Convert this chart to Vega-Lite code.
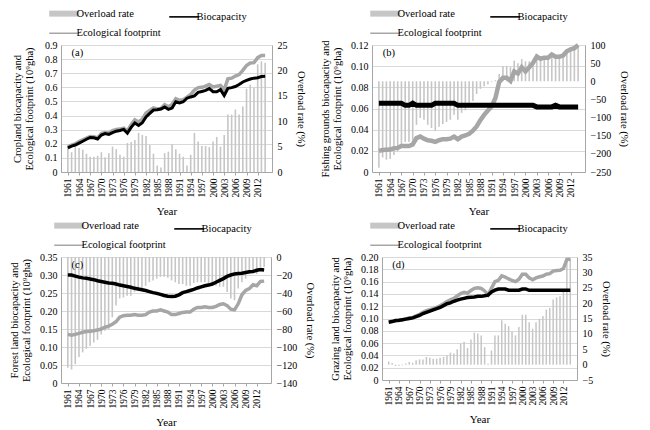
{
"$schema": "https://vega.github.io/schema/vega-lite/v6.json",
"background": "white",
"padding": {"left": 8, "top": 8, "right": 4, "bottom": 4},
"config": {
 "font": "Liberation Serif",
 "view": {"stroke": null},
 "axis": {"labelFont": "Liberation Serif", "titleFont": "Liberation Serif", "labelFontSize": 10, "titleFontSize": 10.5, "titleFontWeight": "normal", "labelColor": "#000", "titleColor": "#000", "domainColor": "#a6a6a6", "tickColor": "#a6a6a6", "gridColor": "#d9d9d9", "labelOverlap": false, "labelFlush": false, "tickCount": 100},
 "legend": {"labelFont": "Liberation Serif", "labelFontSize": 10.5, "labelColor": "#000", "symbolStrokeWidth": 2}
},
"datasets": {
"a": [
{"year":1961,"ef":0.18,"bc":0.171,"rate":5.0},{"year":1962,"ef":0.19,"bc":0.183,"rate":3.9},{"year":1963,"ef":0.20,"bc":0.191,"rate":4.9},{"year":1964,"ef":0.215,"bc":0.205,"rate":4.7},{"year":1965,"ef":0.228,"bc":0.218,"rate":4.4},{"year":1966,"ef":0.24,"bc":0.232,"rate":3.6},{"year":1967,"ef":0.252,"bc":0.245,"rate":3.0},{"year":1968,"ef":0.25,"bc":0.243,"rate":3.0},{"year":1969,"ef":0.242,"bc":0.234,"rate":3.2},{"year":1970,"ef":0.272,"bc":0.262,"rate":3.9},
{"year":1971,"ef":0.28,"bc":0.272,"rate":2.9},{"year":1972,"ef":0.276,"bc":0.266,"rate":3.7},{"year":1973,"ef":0.293,"bc":0.279,"rate":5.0},{"year":1974,"ef":0.302,"bc":0.289,"rate":4.5},{"year":1975,"ef":0.304,"bc":0.294,"rate":3.4},{"year":1976,"ef":0.311,"bc":0.302,"rate":3.0},{"year":1977,"ef":0.292,"bc":0.276,"rate":5.7},{"year":1978,"ef":0.335,"bc":0.316,"rate":5.9},{"year":1979,"ef":0.37,"bc":0.348,"rate":6.3},{"year":1980,"ef":0.355,"bc":0.33,"rate":7.7},
{"year":1981,"ef":0.375,"bc":0.349,"rate":7.3},{"year":1982,"ef":0.418,"bc":0.39,"rate":7.1},{"year":1983,"ef":0.437,"bc":0.415,"rate":5.3},{"year":1984,"ef":0.455,"bc":0.439,"rate":3.6},{"year":1985,"ef":0.447,"bc":0.441,"rate":1.3},{"year":1986,"ef":0.45,"bc":0.446,"rate":0.9},{"year":1987,"ef":0.477,"bc":0.46,"rate":3.7},{"year":1988,"ef":0.462,"bc":0.444,"rate":4.0},{"year":1989,"ef":0.478,"bc":0.453,"rate":5.5},{"year":1990,"ef":0.52,"bc":0.498,"rate":4.5},
{"year":1991,"ef":0.508,"bc":0.49,"rate":3.6},{"year":1992,"ef":0.513,"bc":0.498,"rate":3.0},{"year":1993,"ef":0.53,"bc":0.523,"rate":1.3},{"year":1994,"ef":0.55,"bc":0.532,"rate":3.4},{"year":1995,"ef":0.58,"bc":0.539,"rate":7.7},{"year":1996,"ef":0.598,"bc":0.564,"rate":6.0},{"year":1997,"ef":0.6,"bc":0.571,"rate":5.1},{"year":1998,"ef":0.608,"bc":0.578,"rate":5.1},{"year":1999,"ef":0.62,"bc":0.591,"rate":4.9},{"year":2000,"ef":0.603,"bc":0.569,"rate":6.0},
{"year":2001,"ef":0.608,"bc":0.569,"rate":6.9},{"year":2002,"ef":0.613,"bc":0.584,"rate":5.0},{"year":2003,"ef":0.582,"bc":0.542,"rate":7.3},{"year":2004,"ef":0.66,"bc":0.593,"rate":11.3},{"year":2005,"ef":0.665,"bc":0.598,"rate":11.3},{"year":2006,"ef":0.68,"bc":0.606,"rate":12.3},{"year":2007,"ef":0.69,"bc":0.62,"rate":11.3},{"year":2008,"ef":0.72,"bc":0.638,"rate":12.9},{"year":2009,"ef":0.755,"bc":0.649,"rate":16.4},{"year":2010,"ef":0.772,"bc":0.659,"rate":17.2},
{"year":2011,"ef":0.775,"bc":0.665,"rate":16.6},{"year":2012,"ef":0.81,"bc":0.668,"rate":21.2},{"year":2013,"ef":0.825,"bc":0.677,"rate":21.8},{"year":2014,"ef":0.825,"bc":0.679,"rate":21.5}
],
"b": [
{"year":1961,"ef":0.0200,"bc":0.065,"rate":-238},{"year":1962,"ef":0.0208,"bc":0.065,"rate":-210},{"year":1963,"ef":0.0210,"bc":0.065,"rate":-216},{"year":1964,"ef":0.0212,"bc":0.065,"rate":-214},{"year":1965,"ef":0.0225,"bc":0.065,"rate":-203},{"year":1966,"ef":0.0228,"bc":0.065,"rate":-193},{"year":1967,"ef":0.0245,"bc":0.065,"rate":-176},{"year":1968,"ef":0.0245,"bc":0.063,"rate":-167},{"year":1969,"ef":0.0245,"bc":0.063,"rate":-167},{"year":1970,"ef":0.0260,"bc":0.065,"rate":-162},
{"year":1971,"ef":0.0320,"bc":0.063,"rate":-120},{"year":1972,"ef":0.0335,"bc":0.063,"rate":-101},{"year":1973,"ef":0.0315,"bc":0.063,"rate":-106},{"year":1974,"ef":0.0300,"bc":0.063,"rate":-120},{"year":1975,"ef":0.0295,"bc":0.063,"rate":-129},{"year":1976,"ef":0.0285,"bc":0.065,"rate":-137},{"year":1977,"ef":0.0300,"bc":0.065,"rate":-125},{"year":1978,"ef":0.0310,"bc":0.065,"rate":-118},{"year":1979,"ef":0.0310,"bc":0.065,"rate":-112},{"year":1980,"ef":0.0315,"bc":0.065,"rate":-106},
{"year":1981,"ef":0.0335,"bc":0.065,"rate":-92},{"year":1982,"ef":0.0310,"bc":0.063,"rate":-106},{"year":1983,"ef":0.0335,"bc":0.063,"rate":-87},{"year":1984,"ef":0.0345,"bc":0.063,"rate":-80},{"year":1985,"ef":0.0360,"bc":0.063,"rate":-68},{"year":1986,"ef":0.0390,"bc":0.063,"rate":-54},{"year":1987,"ef":0.0430,"bc":0.063,"rate":-35},{"year":1988,"ef":0.0490,"bc":0.063,"rate":-21},{"year":1989,"ef":0.0540,"bc":0.063,"rate":-14},{"year":1990,"ef":0.0580,"bc":0.063,"rate":-8},
{"year":1991,"ef":0.0620,"bc":0.063,"rate":-2},{"year":1992,"ef":0.0700,"bc":0.063,"rate":3},{"year":1993,"ef":0.0850,"bc":0.063,"rate":20},{"year":1994,"ef":0.0890,"bc":0.063,"rate":42},{"year":1995,"ef":0.0890,"bc":0.063,"rate":42},{"year":1996,"ef":0.0860,"bc":0.063,"rate":39},{"year":1997,"ef":0.0950,"bc":0.063,"rate":57},{"year":1998,"ef":0.0930,"bc":0.063,"rate":50},{"year":1999,"ef":0.0990,"bc":0.063,"rate":61},{"year":2000,"ef":0.0950,"bc":0.063,"rate":55},
{"year":2001,"ef":0.0990,"bc":0.063,"rate":55},{"year":2002,"ef":0.1030,"bc":0.063,"rate":59},{"year":2003,"ef":0.1090,"bc":0.0615,"rate":76},{"year":2004,"ef":0.1070,"bc":0.0615,"rate":69},{"year":2005,"ef":0.1080,"bc":0.0615,"rate":69},{"year":2006,"ef":0.1080,"bc":0.0615,"rate":69},{"year":2007,"ef":0.1110,"bc":0.0615,"rate":78},{"year":2008,"ef":0.1090,"bc":0.063,"rate":67},{"year":2009,"ef":0.1090,"bc":0.0615,"rate":67},{"year":2010,"ef":0.1100,"bc":0.0615,"rate":74},
{"year":2011,"ef":0.1140,"bc":0.0615,"rate":80},{"year":2012,"ef":0.1160,"bc":0.0615,"rate":88},{"year":2013,"ef":0.1170,"bc":0.0615,"rate":92},{"year":2014,"ef":0.1200,"bc":0.0615,"rate":97}
],
"c": [
{"year":1961,"ef":0.135,"bc":0.300,"rate":-123},{"year":1962,"ef":0.133,"bc":0.300,"rate":-125},{"year":1963,"ef":0.135,"bc":0.297,"rate":-119},{"year":1964,"ef":0.138,"bc":0.294,"rate":-111},{"year":1965,"ef":0.141,"bc":0.292,"rate":-106},{"year":1966,"ef":0.143,"bc":0.291,"rate":-102},{"year":1967,"ef":0.144,"bc":0.289,"rate":-99},{"year":1968,"ef":0.145,"bc":0.287,"rate":-95},{"year":1969,"ef":0.147,"bc":0.284,"rate":-92},{"year":1970,"ef":0.150,"bc":0.282,"rate":-86},
{"year":1971,"ef":0.155,"bc":0.280,"rate":-82},{"year":1972,"ef":0.158,"bc":0.278,"rate":-80},{"year":1973,"ef":0.163,"bc":0.277,"rate":-67},{"year":1974,"ef":0.170,"bc":0.275,"rate":-54},{"year":1975,"ef":0.183,"bc":0.272,"rate":-46},{"year":1976,"ef":0.187,"bc":0.270,"rate":-45},{"year":1977,"ef":0.188,"bc":0.268,"rate":-43},{"year":1978,"ef":0.188,"bc":0.266,"rate":-43},{"year":1979,"ef":0.190,"bc":0.263,"rate":-39},{"year":1980,"ef":0.188,"bc":0.261,"rate":-38},
{"year":1981,"ef":0.188,"bc":0.259,"rate":-35},{"year":1982,"ef":0.190,"bc":0.257,"rate":-32},{"year":1983,"ef":0.197,"bc":0.254,"rate":-28},{"year":1984,"ef":0.200,"bc":0.251,"rate":-26},{"year":1985,"ef":0.200,"bc":0.249,"rate":-24},{"year":1986,"ef":0.203,"bc":0.246,"rate":-22},{"year":1987,"ef":0.200,"bc":0.243,"rate":-22},{"year":1988,"ef":0.197,"bc":0.241,"rate":-23},{"year":1989,"ef":0.190,"bc":0.240,"rate":-26},{"year":1990,"ef":0.190,"bc":0.241,"rate":-28},
{"year":1991,"ef":0.193,"bc":0.245,"rate":-30},{"year":1992,"ef":0.196,"bc":0.251,"rate":-30},{"year":1993,"ef":0.197,"bc":0.254,"rate":-32},{"year":1994,"ef":0.197,"bc":0.257,"rate":-32},{"year":1995,"ef":0.205,"bc":0.260,"rate":-29},{"year":1996,"ef":0.210,"bc":0.264,"rate":-28},{"year":1997,"ef":0.210,"bc":0.267,"rate":-28},{"year":1998,"ef":0.212,"bc":0.270,"rate":-28},{"year":1999,"ef":0.210,"bc":0.272,"rate":-30},{"year":2000,"ef":0.210,"bc":0.275,"rate":-32},
{"year":2001,"ef":0.213,"bc":0.280,"rate":-32},{"year":2002,"ef":0.218,"bc":0.285,"rate":-33},{"year":2003,"ef":0.220,"bc":0.290,"rate":-33},{"year":2004,"ef":0.215,"bc":0.296,"rate":-39},{"year":2005,"ef":0.205,"bc":0.300,"rate":-46},{"year":2006,"ef":0.203,"bc":0.303,"rate":-48},{"year":2007,"ef":0.220,"bc":0.304,"rate":-35},{"year":2008,"ef":0.245,"bc":0.305,"rate":-28},{"year":2009,"ef":0.257,"bc":0.307,"rate":-24},{"year":2010,"ef":0.262,"bc":0.309,"rate":-19},
{"year":2011,"ef":0.273,"bc":0.310,"rate":-15},{"year":2012,"ef":0.270,"bc":0.313,"rate":-19},{"year":2013,"ef":0.282,"bc":0.315,"rate":-11},{"year":2014,"ef":0.283,"bc":0.314,"rate":-11}
],
"d": [
{"year":1961,"ef":0.095,"bc":0.094,"rate":1.0},{"year":1962,"ef":0.0955,"bc":0.095,"rate":0.5},{"year":1963,"ef":0.0963,"bc":0.0967,"rate":-0.4},{"year":1964,"ef":0.0966,"bc":0.097,"rate":-0.4},{"year":1965,"ef":0.0978,"bc":0.098,"rate":-0.2},{"year":1966,"ef":0.0994,"bc":0.099,"rate":0.4},{"year":1967,"ef":0.1009,"bc":0.100,"rate":0.9},{"year":1968,"ef":0.1016,"bc":0.101,"rate":0.6},{"year":1969,"ef":0.1044,"bc":0.103,"rate":1.4},{"year":1970,"ef":0.1068,"bc":0.105,"rate":1.7},
{"year":1971,"ef":0.1099,"bc":0.108,"rate":1.7},{"year":1972,"ef":0.1128,"bc":0.110,"rate":2.5},{"year":1973,"ef":0.1145,"bc":0.112,"rate":2.2},{"year":1974,"ef":0.1161,"bc":0.114,"rate":1.9},{"year":1975,"ef":0.1181,"bc":0.1159,"rate":1.9},{"year":1976,"ef":0.1206,"bc":0.118,"rate":2.2},{"year":1977,"ef":0.1240,"bc":0.121,"rate":2.5},{"year":1978,"ef":0.1277,"bc":0.124,"rate":3.0},{"year":1979,"ef":0.1303,"bc":0.1254,"rate":3.9},{"year":1980,"ef":0.1326,"bc":0.128,"rate":3.6},
{"year":1981,"ef":0.1365,"bc":0.130,"rate":5.0},{"year":1982,"ef":0.1404,"bc":0.1315,"rate":6.8},{"year":1983,"ef":0.1425,"bc":0.1327,"rate":7.4},{"year":1984,"ef":0.1412,"bc":0.134,"rate":5.4},{"year":1985,"ef":0.1455,"bc":0.1345,"rate":8.2},{"year":1986,"ef":0.1490,"bc":0.135,"rate":10.4},{"year":1987,"ef":0.1498,"bc":0.136,"rate":10.1},{"year":1988,"ef":0.1489,"bc":0.136,"rate":9.5},{"year":1989,"ef":0.1448,"bc":0.137,"rate":5.7},{"year":1990,"ef":0.1384,"bc":0.138,"rate":0.3},
{"year":1991,"ef":0.1495,"bc":0.143,"rate":4.6},{"year":1992,"ef":0.1599,"bc":0.146,"rate":9.5},{"year":1993,"ef":0.1620,"bc":0.148,"rate":9.5},{"year":1994,"ef":0.1693,"bc":0.148,"rate":14.4},{"year":1995,"ef":0.1674,"bc":0.1478,"rate":13.3},{"year":1996,"ef":0.1643,"bc":0.146,"rate":12.5},{"year":1997,"ef":0.1618,"bc":0.146,"rate":10.8},{"year":1998,"ef":0.1599,"bc":0.146,"rate":9.5},{"year":1999,"ef":0.1638,"bc":0.146,"rate":12.2},{"year":2000,"ef":0.1720,"bc":0.148,"rate":16.2},
{"year":2001,"ef":0.1720,"bc":0.148,"rate":16.2},{"year":2002,"ef":0.1660,"bc":0.1459,"rate":13.8},{"year":2003,"ef":0.1631,"bc":0.146,"rate":11.7},{"year":2004,"ef":0.1661,"bc":0.146,"rate":13.8},{"year":2005,"ef":0.1678,"bc":0.146,"rate":14.9},{"year":2006,"ef":0.1691,"bc":0.146,"rate":15.8},{"year":2007,"ef":0.1721,"bc":0.146,"rate":17.9},{"year":2008,"ef":0.1729,"bc":0.146,"rate":18.4},{"year":2009,"ef":0.1770,"bc":0.146,"rate":21.2},{"year":2010,"ef":0.1780,"bc":0.146,"rate":21.9},
{"year":2011,"ef":0.1784,"bc":0.146,"rate":22.2},{"year":2012,"ef":0.1812,"bc":0.146,"rate":24.1},{"year":2013,"ef":0.1960,"bc":0.1458,"rate":34.4},{"year":2014,"ef":0.1965,"bc":0.146,"rate":34.6}
]
},
"resolve": {"scale": {"color": "independent"}, "legend": {"color": "independent"}},
"spacing": 4,
"vconcat": [
{"hconcat": [
{
"width": 211, "height": 127,
"data": {"name": "a"},
"layer": [
 {"mark": {"type": "bar", "size": 1.6},
  "encoding": {
   "x": {"field": "year", "type": "quantitative", "scale": {"domain": [1960.5, 2014.5], "nice": false, "zero": false}, "axis": {"title": "Year", "values": [1961,1964,1967,1970,1973,1976,1979,1982,1985,1988,1991,1994,1997,2000,2003,2006,2009,2012], "tickCount": 100, "labelOverlap": false, "format": "d", "labelAngle": -90, "labelFontSize": 9.5, "grid": false, "tickSize": 3, "labelPadding": 3, "titlePadding": 8, "titleFontSize": 11}},
   "y": {"field": "rate", "type": "quantitative", "scale": {"domain": [0, 25], "nice": false}, "axis": {"orient": "right", "values": [0,5,10,15,20,25], "format": "d", "tickCount": 100, "labelOverlap": false, "title": "Overload rate (%)", "grid": false, "ticks": false, "labelPadding": 5, "titlePadding": 8}},
   "color": {"datum": "Overload rate", "scale": {"domain": ["Overload rate", "Biocapacity", "Ecological footprint"], "range": ["#c6c6c6", "#000000", "#a6a6a6"]},
     "legend": {"orient": "none", "legendX": -2, "legendY": -37, "direction": "horizontal", "columns": 2, "title": null, "symbolType": "stroke", "symbolSize": 900, "columnPadding": 5, "rowPadding": 2, "labelOffset": 7, "labelFont": "Liberation Serif", "labelFontSize": 10.5,
       "encode": {"symbols": {"update": {"strokeWidth": {"signal": "datum.value === 'Overload rate' ? 6 : datum.value === 'Biocapacity' ? 1.6 : 1.5"}, "stroke": {"signal": "datum.value === 'Overload rate' ? '#b8b8b8' : datum.value === 'Biocapacity' ? '#000000' : '#a6a6a6'"}, "fill": {"value": "transparent"}, "opacity": {"value": 1}}}}}}
  }},
 {"layer": [
  {"mark": {"type": "line", "strokeWidth": 3.5},
   "encoding": {
    "x": {"field": "year", "type": "quantitative", "scale": {"domain": [1960.5, 2014.5], "nice": false, "zero": false}},
    "y": {"field": "ef", "type": "quantitative", "scale": {"domain": [0, 0.9], "nice": false}, "axis": {"orient": "left", "values": [0,0.1,0.2,0.3,0.4,0.5,0.6,0.7,0.8,0.9], "tickCount": 100, "labelOverlap": false, "labelExpr": "datum.value == 0 ? '0' : format(datum.value, '.1f')", "title": ["Cropland biocapacity and", "Ecological footprint (10⁹gha)"], "grid": true, "ticks": false, "titlePadding": 10, "labelPadding": 4}},
    "color": {"datum": "Ecological footprint", "scale": {"domain": ["Overload rate", "Biocapacity", "Ecological footprint"], "range": ["#c6c6c6", "#000000", "#a6a6a6"]}}
   }},
  {"mark": {"type": "line", "strokeWidth": 3},
   "encoding": {
    "x": {"field": "year", "type": "quantitative"},
    "y": {"field": "bc", "type": "quantitative"},
    "color": {"datum": "Biocapacity", "scale": {"domain": ["Overload rate", "Biocapacity", "Ecological footprint"], "range": ["#c6c6c6", "#000000", "#a6a6a6"]}}
   }},
  {"data": {"values": [{"t": "(a)"}]},
   "mark": {"type": "text", "align": "left", "baseline": "middle", "fontSize": 10.5, "font": "Liberation Serif"},
   "encoding": {"x": {"datum": 1962}, "y": {"datum": 0.84}, "text": {"field": "t"}}}
 ]}
],
"resolve": {"scale": {"y": "independent"}}
},
{
"width": 213, "height": 127,
"data": {"name": "b"},
"layer": [
 {"mark": {"type": "bar", "size": 1.6},
  "encoding": {
   "x": {"field": "year", "type": "quantitative", "scale": {"domain": [1960.5, 2014.5], "nice": false, "zero": false}, "axis": {"title": "Year", "values": [1961,1964,1967,1970,1973,1976,1979,1982,1985,1988,1991,1994,1997,2000,2003,2006,2009,2012], "tickCount": 100, "labelOverlap": false, "format": "d", "labelAngle": -90, "labelFontSize": 9.5, "grid": false, "tickSize": 3, "labelPadding": 3, "titlePadding": 8, "titleFontSize": 11}},
   "y": {"field": "rate", "type": "quantitative", "scale": {"domain": [-250, 100], "nice": false}, "axis": {"orient": "right", "values": [-250,-200,-150,-100,-50,0,50,100], "format": "d", "tickCount": 100, "labelOverlap": false, "title": "Overload rate (%)", "grid": false, "ticks": false, "labelPadding": 5, "titlePadding": 8}},
   "color": {"datum": "Overload rate", "scale": {"domain": ["Overload rate", "Biocapacity", "Ecological footprint"], "range": ["#c6c6c6", "#000000", "#a6a6a6"]},
     "legend": {"orient": "none", "legendX": 8, "legendY": -37, "direction": "horizontal", "columns": 2, "title": null, "symbolType": "stroke", "symbolSize": 900, "columnPadding": 5, "rowPadding": 2, "labelOffset": 7, "labelFont": "Liberation Serif", "labelFontSize": 10.5,
       "encode": {"symbols": {"update": {"strokeWidth": {"signal": "datum.value === 'Overload rate' ? 6 : datum.value === 'Biocapacity' ? 1.6 : 1.5"}, "stroke": {"signal": "datum.value === 'Overload rate' ? '#b8b8b8' : datum.value === 'Biocapacity' ? '#000000' : '#a6a6a6'"}, "fill": {"value": "transparent"}, "opacity": {"value": 1}}}}}}
  }},
 {"layer": [
  {"mark": {"type": "line", "strokeWidth": 4.5},
   "encoding": {
    "x": {"field": "year", "type": "quantitative", "scale": {"domain": [1960.5, 2014.5], "nice": false, "zero": false}},
    "y": {"field": "ef", "type": "quantitative", "scale": {"domain": [0, 0.12], "nice": false}, "axis": {"orient": "left", "values": [0,0.02,0.04,0.06,0.08,0.1,0.12], "tickCount": 100, "labelOverlap": false, "labelExpr": "datum.value == 0 ? '0' : format(datum.value, '.2f')", "title": ["Fishing grounds biocapacity and", "Ecological footprint (10⁹gha)"], "grid": true, "ticks": false, "titlePadding": 8, "labelPadding": 4}},
    "color": {"datum": "Ecological footprint", "scale": {"domain": ["Overload rate", "Biocapacity", "Ecological footprint"], "range": ["#c6c6c6", "#000000", "#a6a6a6"]}}
   }},
  {"mark": {"type": "line", "strokeWidth": 5},
   "encoding": {
    "x": {"field": "year", "type": "quantitative"},
    "y": {"field": "bc", "type": "quantitative"},
    "color": {"datum": "Biocapacity", "scale": {"domain": ["Overload rate", "Biocapacity", "Ecological footprint"], "range": ["#c6c6c6", "#000000", "#a6a6a6"]}}
   }},
  {"data": {"values": [{"t": "(b)"}]},
   "mark": {"type": "text", "align": "left", "baseline": "middle", "fontSize": 10.5, "font": "Liberation Serif"},
   "encoding": {"x": {"datum": 1962}, "y": {"datum": 0.1125}, "text": {"field": "t"}}}
 ]}
],
"resolve": {"scale": {"y": "independent"}}
}
], "spacing": 14, "resolve": {"scale": {"color": "independent"}, "legend": {"color": "independent"}}},
{"hconcat": [
{
"width": 210, "height": 126,
"data": {"name": "c"},
"layer": [
 {"mark": {"type": "bar", "size": 1.6},
  "encoding": {
   "x": {"field": "year", "type": "quantitative", "scale": {"domain": [1960.5, 2014.5], "nice": false, "zero": false}, "axis": {"title": "Year", "values": [1961,1964,1967,1970,1973,1976,1979,1982,1985,1988,1991,1994,1997,2000,2003,2006,2009,2012], "tickCount": 100, "labelOverlap": false, "format": "d", "labelAngle": -90, "labelFontSize": 9.5, "grid": false, "tickSize": 3, "labelPadding": 3, "titlePadding": 8, "titleFontSize": 11}},
   "y": {"field": "rate", "type": "quantitative", "scale": {"domain": [-140, 0], "nice": false}, "axis": {"orient": "right", "values": [-140,-120,-100,-80,-60,-40,-20,0], "format": "d", "tickCount": 100, "labelOverlap": false, "title": "Overload rate (%)", "grid": false, "ticks": false, "labelPadding": 5, "titlePadding": 8}},
   "color": {"datum": "Overload rate", "scale": {"domain": ["Overload rate", "Biocapacity", "Ecological footprint"], "range": ["#c6c6c6", "#000000", "#a6a6a6"]},
     "legend": {"orient": "none", "legendX": 3, "legendY": -37, "direction": "horizontal", "columns": 2, "title": null, "symbolType": "stroke", "symbolSize": 900, "columnPadding": 5, "rowPadding": 2, "labelOffset": 7, "labelFont": "Liberation Serif", "labelFontSize": 10.5,
       "encode": {"symbols": {"update": {"strokeWidth": {"signal": "datum.value === 'Overload rate' ? 6 : datum.value === 'Biocapacity' ? 1.6 : 1.5"}, "stroke": {"signal": "datum.value === 'Overload rate' ? '#b8b8b8' : datum.value === 'Biocapacity' ? '#000000' : '#a6a6a6'"}, "fill": {"value": "transparent"}, "opacity": {"value": 1}}}}}}
  }},
 {"layer": [
  {"mark": {"type": "line", "strokeWidth": 3.5},
   "encoding": {
    "x": {"field": "year", "type": "quantitative", "scale": {"domain": [1960.5, 2014.5], "nice": false, "zero": false}},
    "y": {"field": "ef", "type": "quantitative", "scale": {"domain": [0, 0.35], "nice": false}, "axis": {"orient": "left", "values": [0,0.05,0.1,0.15,0.2,0.25,0.3,0.35], "tickCount": 100, "labelOverlap": false, "labelExpr": "datum.value == 0 ? '0' : format(datum.value, '.2f')", "title": ["Forest land biocapacity and", "Ecological footprint (10⁹gha)"], "grid": true, "ticks": false, "titlePadding": 8, "labelPadding": 4}},
    "color": {"datum": "Ecological footprint", "scale": {"domain": ["Overload rate", "Biocapacity", "Ecological footprint"], "range": ["#c6c6c6", "#000000", "#a6a6a6"]}}
   }},
  {"mark": {"type": "line", "strokeWidth": 3.5},
   "encoding": {
    "x": {"field": "year", "type": "quantitative"},
    "y": {"field": "bc", "type": "quantitative"},
    "color": {"datum": "Biocapacity", "scale": {"domain": ["Overload rate", "Biocapacity", "Ecological footprint"], "range": ["#c6c6c6", "#000000", "#a6a6a6"]}}
   }},
  {"data": {"values": [{"t": "(c)"}]},
   "mark": {"type": "text", "align": "left", "baseline": "middle", "fontSize": 10.5, "font": "Liberation Serif"},
   "encoding": {"x": {"datum": 1962}, "y": {"datum": 0.327}, "text": {"field": "t"}}}
 ]}
],
"resolve": {"scale": {"y": "independent"}}
},
{
"width": 195, "height": 123,
"data": {"name": "d"},
"layer": [
 {"mark": {"type": "bar", "size": 1.5},
  "encoding": {
   "x": {"field": "year", "type": "quantitative", "scale": {"domain": [1960.5, 2014.5], "nice": false, "zero": false}, "axis": {"title": "Year", "values": [1961,1964,1967,1970,1973,1976,1979,1982,1985,1988,1991,1994,1997,2000,2003,2006,2009,2012], "tickCount": 100, "labelOverlap": false, "format": "d", "labelAngle": -90, "labelFontSize": 9.5, "grid": false, "tickSize": 3, "labelPadding": 3, "titlePadding": 8, "titleFontSize": 11}},
   "y": {"field": "rate", "type": "quantitative", "scale": {"domain": [-5, 35], "nice": false}, "axis": {"orient": "right", "values": [-5,0,5,10,15,20,25,30,35], "format": "d", "tickCount": 100, "labelOverlap": false, "title": "Overload rate (%)", "grid": false, "ticks": false, "labelPadding": 5, "titlePadding": 8}},
   "color": {"datum": "Overload rate", "scale": {"domain": ["Overload rate", "Biocapacity", "Ecological footprint"], "range": ["#c6c6c6", "#000000", "#a6a6a6"]},
     "legend": {"orient": "none", "legendX": -2, "legendY": -37, "direction": "horizontal", "columns": 2, "title": null, "symbolType": "stroke", "symbolSize": 900, "columnPadding": 5, "rowPadding": 2, "labelOffset": 7, "labelFont": "Liberation Serif", "labelFontSize": 10.5,
       "encode": {"symbols": {"update": {"strokeWidth": {"signal": "datum.value === 'Overload rate' ? 6 : datum.value === 'Biocapacity' ? 1.6 : 1.5"}, "stroke": {"signal": "datum.value === 'Overload rate' ? '#b8b8b8' : datum.value === 'Biocapacity' ? '#000000' : '#a6a6a6'"}, "fill": {"value": "transparent"}, "opacity": {"value": 1}}}}}}
  }},
 {"layer": [
  {"mark": {"type": "line", "strokeWidth": 3.5},
   "encoding": {
    "x": {"field": "year", "type": "quantitative", "scale": {"domain": [1960.5, 2014.5], "nice": false, "zero": false}},
    "y": {"field": "ef", "type": "quantitative", "scale": {"domain": [0, 0.2], "nice": false}, "axis": {"orient": "left", "values": [0,0.02,0.04,0.06,0.08,0.1,0.12,0.14,0.16,0.18,0.2], "tickCount": 100, "labelOverlap": false, "labelExpr": "datum.value == 0 ? '0' : format(datum.value, '.2f')", "title": ["Grazing land biocapacity and", "Ecological footprint (10⁹gha)"], "grid": true, "ticks": false, "titlePadding": 8, "labelPadding": 4}},
    "color": {"datum": "Ecological footprint", "scale": {"domain": ["Overload rate", "Biocapacity", "Ecological footprint"], "range": ["#c6c6c6", "#000000", "#a6a6a6"]}}
   }},
  {"mark": {"type": "line", "strokeWidth": 3.5},
   "encoding": {
    "x": {"field": "year", "type": "quantitative"},
    "y": {"field": "bc", "type": "quantitative"},
    "color": {"datum": "Biocapacity", "scale": {"domain": ["Overload rate", "Biocapacity", "Ecological footprint"], "range": ["#c6c6c6", "#000000", "#a6a6a6"]}}
   }},
  {"data": {"values": [{"t": "(d)"}]},
   "mark": {"type": "text", "align": "left", "baseline": "middle", "fontSize": 10.5, "font": "Liberation Serif"},
   "encoding": {"x": {"datum": 1962}, "y": {"datum": 0.187}, "text": {"field": "t"}}}
 ]}
],
"resolve": {"scale": {"y": "independent"}}
}
], "spacing": 14, "resolve": {"scale": {"color": "independent"}, "legend": {"color": "independent"}}}
]
}
